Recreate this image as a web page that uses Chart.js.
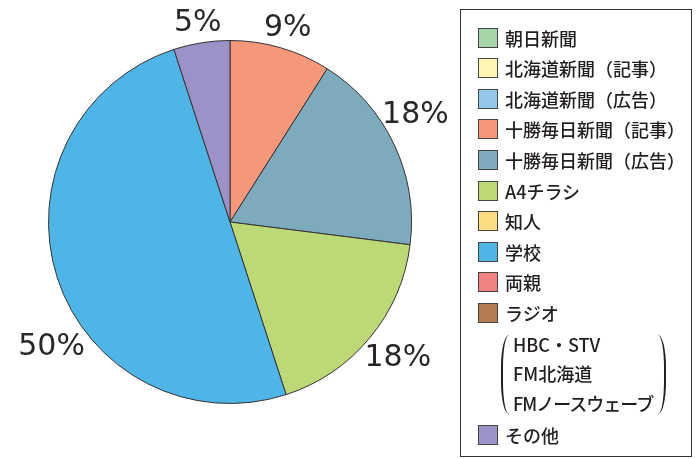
<!DOCTYPE html>
<html lang="ja">
<head>
<meta charset="utf-8">
<script src="https://cdn.jsdelivr.net/npm/chart.js@4.4.0/dist/chart.umd.min.js"></script>
<style>
    body { margin: 0; background: #fff; }
    #wrap { position: relative; width: 699px; height: 459px; }
    #legend {
        position: absolute; left: 460px; top: 9px; width: 232px; height: 448px;
        border: 1.5px solid #333; box-sizing: border-box;
        font-family: "Noto Sans CJK JP", sans-serif; font-size: 18px; font-weight: 500; color: #231f20;
    }
    .item { position: absolute; left: 17px; height: 22px; display: flex; align-items: center; white-space: nowrap; }
    .swatch { width: 20px; height: 20px; border: 1px solid #444; box-sizing: border-box; margin-right: 7px; }
    .sub { position: absolute; left: 52px; white-space: nowrap; line-height: 22px; }
    .paren { position: absolute; width: 8px; border: 2px solid #231f20; box-sizing: border-box; }
</style>
</head>
<body>
<div id="wrap">
    <canvas id="pieChart"></canvas>
    <div id="legend"></div>
</div>
<script>
// Categories (legend order) and share in %
const categories = ['朝日新聞', '北海道新聞（記事）', '北海道新聞（広告）', '十勝毎日新聞（記事）', '十勝毎日新聞（広告）',
    'A4チラシ', '知人', '学校', '両親', 'ラジオ', 'その他'];
const shares = [0, 0, 0, 9, 18, 18, 0, 50, 0, 0, 5];
const sliceColors = ['#a7d5aa', '#fff6b3', '#95c7e9', '#f5977a', '#7eaabd',
    '#bdd977', '#fddd7f', '#4fb5e7', '#f28282', '#b47c53', '#9c92c7'];
// radio stations listed under ラジオ
const radioNote = ['HBC・STV', 'FM北海道', 'FMノースウェーブ'];

// small angle nudges (deg) for the percent labels, by category index
const labelNudge = { 4: -6, 5: -1.5, 7: -16 };

// Percent labels outside the pie
const outerLabels = {
    id: 'outerLabels',
    afterDatasetsDraw(chart) {
        const ctx = chart.ctx;
        const arcs = chart.getDatasetMeta(0).data;
        ctx.save();
        ctx.font = '30px "DejaVu Sans"';
        ctx.fillStyle = '#2a2627';
        ctx.textAlign = 'center';
        ctx.textBaseline = 'middle';
        arcs.forEach((arc, i) => {
            if (!shares[i]) return;
            const a = (arc.startAngle + arc.endAngle) / 2 + (labelNudge[i] || 0) * Math.PI / 180;
            const text = shares[i] + '%';
            const hw = ctx.measureText(text).width / 2, hh = 11;
            const c = Math.cos(a), s = Math.sin(a);
            const t = Math.min(hw / Math.max(Math.abs(c), 1e-6), hh / Math.max(Math.abs(s), 1e-6));
            const d = arc.outerRadius + 14 + t;
            ctx.fillText(text, arc.x + d * c, arc.y + d * s + 5);
        });
        ctx.restore();
    }
};

function initializePie() {
    const ctx = document.getElementById('pieChart');
    new Chart(ctx, {
        type: 'pie',
        data: {
            labels: categories,
            datasets: [{
                data: shares,
                backgroundColor: sliceColors,
                borderColor: '#333',
                borderWidth: 1
            }]
        },
        options: {
            responsive: true,
            maintainAspectRatio: false,
            animation: false,
            layout: { padding: { left: 48, right: 287, top: 40, bottom: 55 } },
            plugins: {
                legend: { display: false },
                tooltip: { enabled: false }
            }
        },
        plugins: [outerLabels]
    });
}

// Legend built as HTML from the arrays
function buildLegend() {
    const box = document.getElementById('legend');
    const rowH = 30.6, firstY = 27.5 - 11;
    let html = '';
    let row = 0;
    categories.forEach((name, i) => {
        const top = firstY + row * rowH;
        html += `<div class="item" style="top:${top}px"><span class="swatch" style="background:${sliceColors[i]}"></span>${name}</div>`;
        row++;
        if (name === 'ラジオ') {
            const subTop = firstY + row * rowH;
            radioNote.forEach((line, j) => {
                html += `<div class="sub" style="top:${subTop + j * 29.5}px;${j === 2 ? 'letter-spacing:-1px;' : ''}">${line}</div>`;
            });
            const pTop = subTop + 2, pH = 2 * 29.5 + 20;
            html += `<div class="paren" style="left:40px;top:${pTop}px;height:${pH}px;border-right:none;border-top:none;border-bottom:none;border-radius:10px 0 0 10px / 40px 0 0 40px"></div>`;
            html += `<div class="paren" style="left:197px;top:${pTop}px;height:${pH}px;border-left:none;border-top:none;border-bottom:none;border-radius:0 10px 10px 0 / 0 40px 40px 0"></div>`;
            row += radioNote.length;
        }
    });
    box.innerHTML = html;
}

buildLegend();
initializePie();
</script>
</body>
</html>
